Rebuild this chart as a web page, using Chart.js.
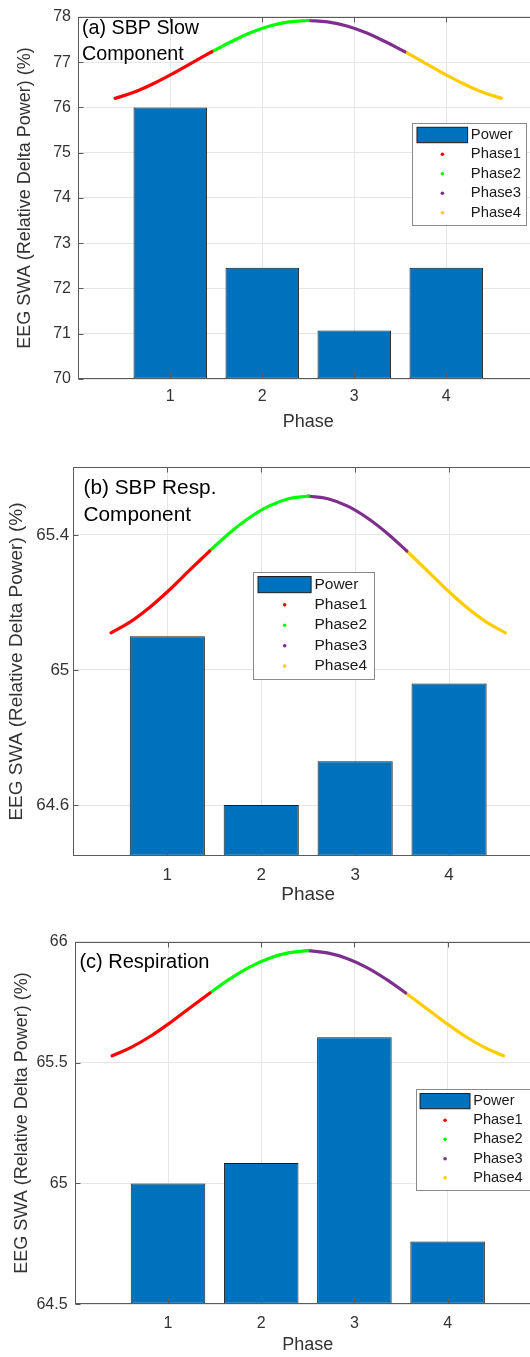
<!DOCTYPE html>
<html><head><meta charset="utf-8">
<script src="https://cdn.jsdelivr.net/npm/chart.js@4.4.1/dist/chart.umd.min.js"></script>
<style>
html,body{margin:0;padding:0;background:#fff;overflow:hidden;width:530px;height:1357px;position:relative;}
.panel{position:absolute;left:0;}
canvas{display:block;}
</style></head><body>
<div class="panel" style="top:0px"><canvas id="ca" width="560" height="440"></canvas></div>
<div class="panel" style="top:450px"><canvas id="cb" width="560" height="460"></canvas></div>
<div class="panel" style="top:910px"><canvas id="cc" width="560" height="447"></canvas></div>
<script>
// ---------- data ----------
const phases = [1, 2, 3, 4];
const phaseNames = ['Phase1', 'Phase2', 'Phase3', 'Phase4'];
const xTicks = [1, 2, 3, 4];

const powerA = [76.00, 72.46, 71.07, 72.46];
const powerB = [65.10, 64.60, 64.73, 64.96];
const powerC = [65.00, 65.085, 65.605, 64.76];

// phase-curve samples (x positions shared by all panels)
const curveX = [0.40, 0.61, 0.82, 1.03, 1.24, 1.45, 1.66, 1.87, 2.08, 2.29, 2.50,
                2.71, 2.92, 3.13, 3.34, 3.55, 3.76, 3.97, 4.18, 4.39, 4.60];
const curveA = [76.20, 76.34, 76.53, 76.75, 76.99, 77.23, 77.45, 77.65, 77.80, 77.89, 77.92,
                77.89, 77.80, 77.65, 77.45, 77.23, 76.99, 76.75, 76.53, 76.34, 76.20];
const curveB = [65.110, 65.143, 65.187, 65.239, 65.296, 65.352, 65.405, 65.450, 65.485, 65.507, 65.515,
                65.507, 65.485, 65.450, 65.405, 65.352, 65.296, 65.239, 65.187, 65.143, 65.110];
const curveC = [65.528, 65.564, 65.611, 65.667, 65.728, 65.788, 65.845, 65.894, 65.931, 65.954, 65.963,
                65.954, 65.931, 65.894, 65.845, 65.788, 65.728, 65.667, 65.611, 65.564, 65.528];

const yTicksA = [70, 71, 72, 73, 74, 75, 76, 77, 78];
const yTicksB = [64.6, 65, 65.4];
const yTicksC = [64.5, 65, 65.5, 66];

const titleA = ['(a) SBP Slow', 'Component'];
const titleB = ['(b) SBP Resp.', 'Component'];
const titleC = ['(c) Respiration'];

// ---------- styles ----------
const FONT = '"Liberation Sans", Arial, Helvetica, sans-serif';
const phaseColors = ['#ff0000', '#00ff00', '#7e2f8e', '#ffcc00'];
const BAR_COLOR = '#0072bd';
const BAR_EDGE = '#1c1c1c';
const GRID = '#e6e6e6';
const FRAME = '#5a5a5a';

function makeChart(id, p) {
  const datasets = [{
    type: 'bar', label: 'Power',
    data: phases.map((x, i) => ({x: x, y: p.power[i]})),
    backgroundColor: BAR_COLOR, borderColor: BAR_EDGE, borderWidth: 1, borderSkipped: false,
    base: p.yMin, categoryPercentage: 0.8, barPercentage: 1, order: 2
  }];
  for (let k = 0; k < 4; k++) {
    const pts = [];
    for (let j = k * 5; j <= k * 5 + 5; j++) pts.push({x: curveX[j], y: p.curve[j]});
    datasets.push({
      type: 'line', label: phaseNames[k], data: pts,
      borderColor: phaseColors[k], backgroundColor: phaseColors[k],
      borderWidth: 3.2, pointRadius: 0, tension: 0.4, fill: false, order: 1,
      borderCapStyle: 'round'
    });
  }

  const deco = {
    id: 'deco_' + id,
    afterDatasetsDraw(chart) {
      const ctx = chart.ctx;
      const {left, right, top, bottom} = chart.chartArea;
      const xs = chart.scales.x, ys = chart.scales.y;
      ctx.save();
      ctx.strokeStyle = FRAME; ctx.lineWidth = 1;
      const L = Math.round(left) + 0.5, R = Math.round(right) - 0.5, T = Math.round(top) + 0.5, B = Math.round(bottom) - 0.5;
      ctx.strokeRect(L, T, R - L, B - T);
      ctx.beginPath();
      xs.ticks.forEach(t => {
        const px = Math.round(xs.getPixelForValue(t.value)) + 0.5;
        ctx.moveTo(px, B); ctx.lineTo(px, B - 5);
        ctx.moveTo(px, T); ctx.lineTo(px, T + 5);
      });
      ys.ticks.forEach(t => {
        const py = Math.round(ys.getPixelForValue(t.value)) + 0.5;
        ctx.moveTo(L, py); ctx.lineTo(L + 5, py);
      });
      ctx.stroke();
      ctx.restore();
    },
    afterDraw(chart) {
      const ctx = chart.ctx;
      ctx.save();
      // panel title
      ctx.fillStyle = '#000';
      ctx.font = p.titleSize + 'px ' + FONT;
      ctx.textBaseline = 'alphabetic';
      ctx.textAlign = 'left';
      p.title.forEach((s, i) => ctx.fillText(s, p.titleX, p.titleY + i * p.titleLH));
      // legend
      const g = p.legend, s = g.h / 102.3;
      ctx.fillStyle = '#fff';
      ctx.fillRect(g.x, g.y, g.w, g.h);
      ctx.strokeStyle = '#8a8a8a'; ctx.lineWidth = 1;
      ctx.strokeRect(Math.round(g.x) + 0.5, Math.round(g.y) + 0.5, Math.round(g.w), Math.round(g.h));
      ctx.fillStyle = BAR_COLOR;
      ctx.fillRect(g.x + 4.6 * s, g.y + 4.6 * s, 50.6 * s, 15.4 * s);
      ctx.strokeStyle = BAR_EDGE;
      ctx.strokeRect(g.x + 4.6 * s, g.y + 4.6 * s, 50.6 * s, 15.4 * s);
      const rows = [12.3, 31.6, 51, 70.6, 90];
      ctx.font = (p.legendFont * s).toFixed(1) + 'px ' + FONT;
      ctx.textBaseline = 'middle';
      ctx.fillStyle = '#1a1a1a';
      ctx.fillText('Power', g.x + 58.4 * s, g.y + rows[0] * s);
      for (let k = 0; k < 4; k++) {
        const cy = g.y + rows[k + 1] * s;
        ctx.fillStyle = phaseColors[k];
        ctx.beginPath(); ctx.arc(g.x + 30 * s, cy, 1.8, 0, Math.PI * 2); ctx.fill();
        ctx.fillStyle = '#1a1a1a';
        ctx.fillText(phaseNames[k], g.x + 58.4 * s, cy);
      }
      ctx.restore();
    }
  };

  return new Chart(document.getElementById(id), {
    type: 'bar',
    data: {datasets: datasets},
    plugins: [deco],
    options: {
      responsive: false, animation: false, devicePixelRatio: 1,
      layout: {padding: {left: 0, top: p.top, right: p.padRight, bottom: 0}},
      plugins: {legend: {display: false}, tooltip: {enabled: false}, title: {display: false}},
      scales: {
        x: {
          type: 'linear', min: 0, max: 5, offset: false,
          afterBuildTicks: sc => { sc.ticks = xTicks.map(v => ({value: v})); },
          afterFit: sc => { sc.height = p.xh; },
          grid: {color: GRID, drawTicks: false, offset: false},
          border: {display: false},
          ticks: {padding: p.xTickPad, color: '#333', font: {family: FONT, size: p.tickFont},
                  callback: v => String(v), maxRotation: 0, autoSkip: false},
          title: {display: true, text: 'Phase', color: '#333', font: {family: FONT, size: p.axisFont},
                  padding: {top: 0, bottom: p.xTitlePad}}
        },
        y: {
          type: 'linear', min: p.yMin, max: p.yMax,
          afterBuildTicks: sc => { sc.ticks = p.yTicks.map(v => ({value: v})); },
          afterFit: sc => { sc.width = p.left; },
          grid: {color: GRID, drawTicks: false},
          border: {display: false},
          ticks: {padding: p.yTickPad, color: '#333', font: {family: FONT, size: p.tickFont},
                  callback: v => String(v), autoSkip: false},
          title: {display: true, text: 'EEG SWA (Relative Delta Power) (%)', color: '#333',
                  font: {family: FONT, size: p.axisFont}, padding: {top: p.yTitlePad, bottom: 0}}
        }
      }
    }
  });
}

makeChart('ca', {
  power: powerA, curve: curveA, yMin: 70, yMax: 78, yTicks: yTicksA,
  top: 14, padRight: 21.7, left: 78.3, xh: 61,
  tickFont: 16, axisFont: 18,
  xTickPad: 8.1, xTitlePad: 7.5, yTitlePad: 13.9, yTickPad: 7.3,
  title: titleA, titleX: 82, titleY: 34, titleLH: 26, titleSize: 19.7,
  legend: {x: 412.4, y: 122.7, w: 114.3, h: 102.3}, legendFont: 14.8
});
makeChart('cb', {
  power: powerB, curve: curveB, yMin: 64.45, yMax: 65.6, yTicks: yTicksB,
  top: 17.3, padRight: 17, left: 73.4, xh: 54.3,
  tickFont: 17, axisFont: 19,
  xTickPad: 9.1, xTitlePad: 3.6, yTitlePad: 5.6, yTickPad: 4.1,
  title: titleB, titleX: 83.5, titleY: 44, titleLH: 26.7, titleSize: 20.8,
  legend: {x: 253.2, y: 121.7, w: 120.7, h: 107.3}, legendFont: 14.8
});
makeChart('cc', {
  power: powerC, curve: curveC, yMin: 64.5, yMax: 66, yTicks: yTicksC,
  top: 31.7, padRight: 19.2, left: 74.8, xh: 52.7,
  tickFont: 16, axisFont: 18,
  xTickPad: 9.4, xTitlePad: 1.2, yTitlePad: 11.2, yTickPad: 7.2,
  title: titleC, titleX: 79.4, titleY: 58.3, titleLH: 26, titleSize: 20,
  legend: {x: 415.5, y: 179, w: 114.5, h: 101}, legendFont: 14.8
});
</script>
</body></html>
